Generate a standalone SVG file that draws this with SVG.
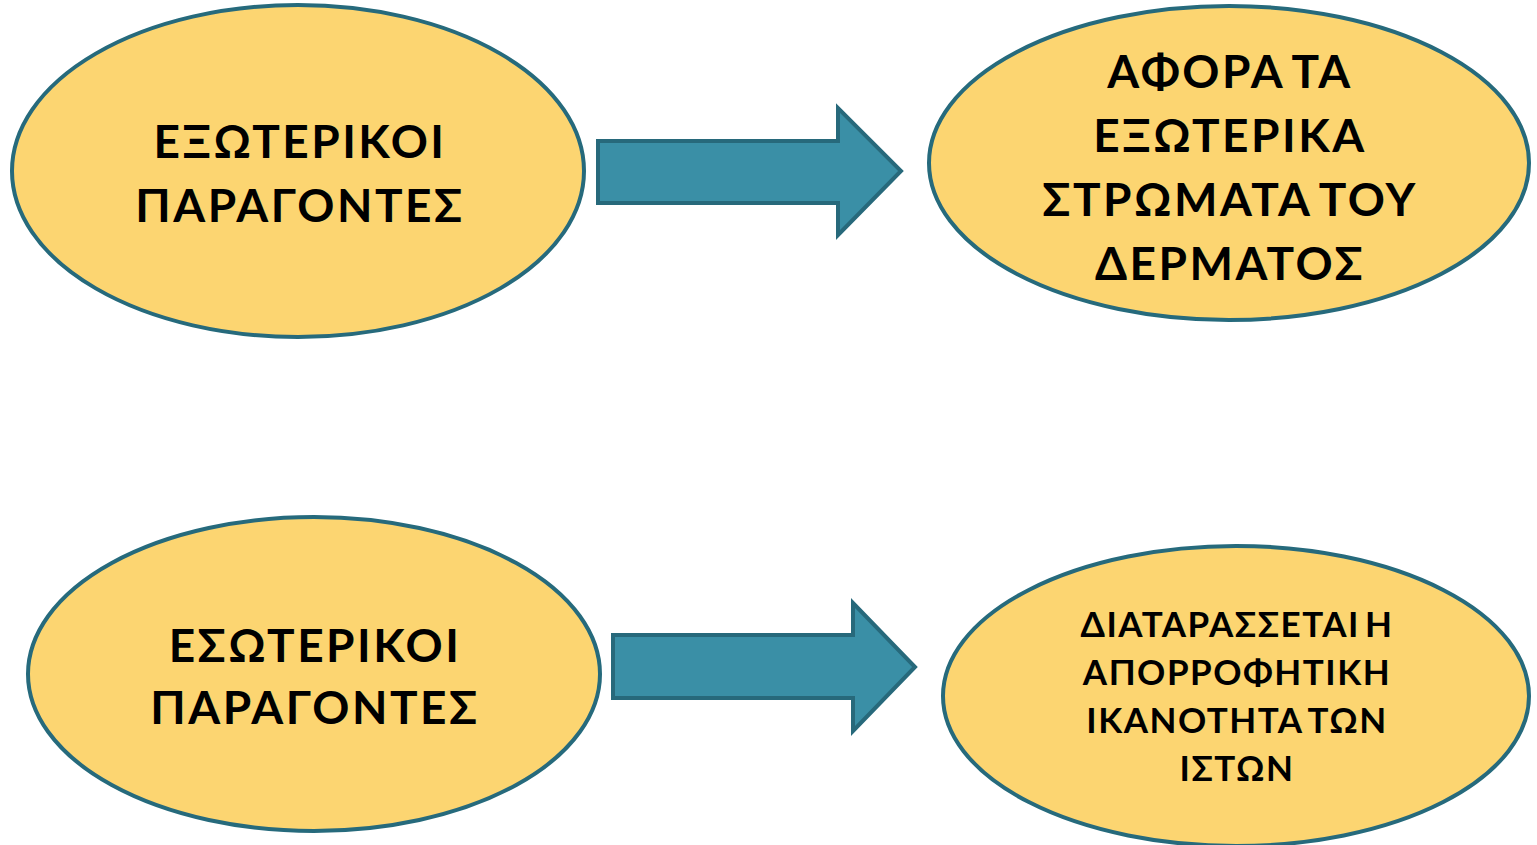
<svg xmlns="http://www.w3.org/2000/svg" width="1537" height="845" viewBox="0 0 1537 845">
<style>
.node{fill:#FCD571;stroke:#266A7C;stroke-width:4}
.arrow{fill:#3A8FA6;stroke:#27697B;stroke-width:4;stroke-linejoin:miter}
.t{font-family:Lato,"Noto Sans","DejaVu Sans",sans-serif;font-weight:bold;fill:#000;text-anchor:middle}
.big{font-size:46px;letter-spacing:2.5px;word-spacing:-6px}
.small{font-size:35px;letter-spacing:1.5px;word-spacing:-5px}
</style>
<rect width="1537" height="845" fill="#fff"/>
<g id="connectors">
<polygon class="arrow" points="598,141 838,141 838,108 901,171 838,235 838,203 598,203"/>
<polygon class="arrow" points="613,635 853,635 853,603 915,667 853,731 853,698 613,698"/>
</g>
<g id="n1">
<ellipse class="node" cx="298" cy="171" rx="286" ry="166"/>
<text class="t big" x="300" y="158">ΕΞΩΤΕΡΙΚΟΙ</text>
<text class="t big" x="300" y="222">ΠΑΡΑΓΟΝΤΕΣ</text>
</g>
<g id="n2">
<ellipse class="node" cx="1229" cy="163" rx="300" ry="157"/>
<text class="t big" x="1230" y="88">ΑΦΟΡΑ ΤΑ</text>
<text class="t big" x="1230" y="152">ΕΞΩΤΕΡΙΚΑ</text>
<text class="t big" x="1230" y="216">ΣΤΡΩΜΑΤΑ ΤΟΥ</text>
<text class="t big" x="1230" y="280">ΔΕΡΜΑΤΟΣ</text>
</g>
<g id="n3">
<ellipse class="node" cx="314" cy="674" rx="286" ry="157"/>
<text class="t big" x="315" y="662">ΕΣΩΤΕΡΙΚΟΙ</text>
<text class="t big" x="315" y="724">ΠΑΡΑΓΟΝΤΕΣ</text>
</g>
<g id="n4">
<ellipse class="node" cx="1236" cy="696" rx="293" ry="150"/>
<text class="t small" x="1237" y="637">ΔΙΑΤΑΡΑΣΣΕΤΑΙ Η</text>
<text class="t small" x="1237" y="685">ΑΠΟΡΡΟΦΗΤΙΚΗ</text>
<text class="t small" x="1237" y="733">ΙΚΑΝΟΤΗΤΑ ΤΩΝ</text>
<text class="t small" x="1237" y="781">ΙΣΤΩΝ</text>
</g>
</svg>
